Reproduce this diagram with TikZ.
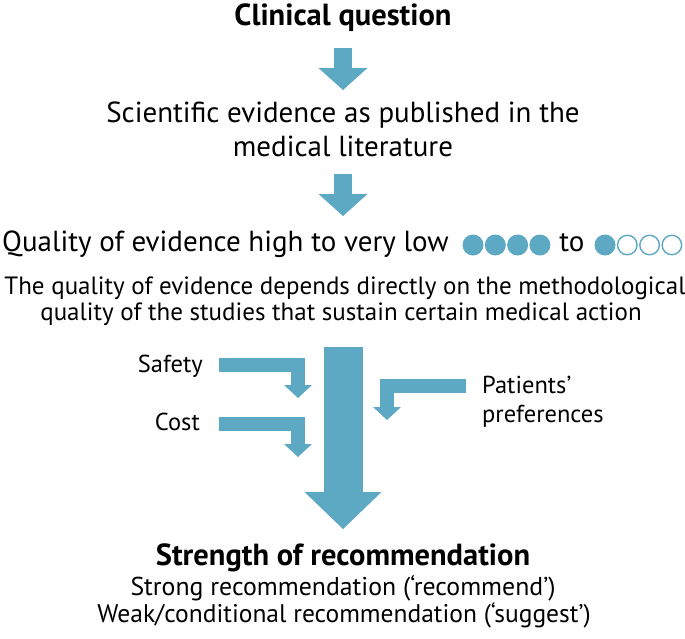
\documentclass[tikz,border=0pt]{standalone}
\usepackage{fontspec}
\setmainfont{PT Sans}
\usetikzlibrary{arrows.meta,positioning,calc}
\definecolor{gblue}{HTML}{5DA8C2}
\tikzset{
  txt/.style={inner sep=0pt,font=\fontsize{25}{30}\selectfont},
  bigtxt/.style={txt,font=\fontsize{29}{34}\selectfont},
  sidetxt/.style={txt,font=\fontsize{24.5}{29}\selectfont},
  headtxt/.style={txt,font=\fontsize{30.5}{36}\selectfont\bfseries},
  flowarrow/.style={draw=gblue,line width=18pt,
    -{Triangle[width=49pt,length=22pt,line width=0pt]}},
  sidearrow/.style={draw=gblue,line width=14pt,
    -{Triangle[width=28pt,length=13pt,line width=0pt]}},
  bigarrow/.style={draw=gblue,line width=39pt,
    -{Triangle[width=77pt,length=37pt,line width=0pt]}},
  fulldot/.style={circle,fill=gblue,inner sep=0pt,minimum size=21pt},
  opendot/.style={circle,draw=gblue,line width=1.4pt,fill=white,inner sep=0pt,minimum size=19.5pt},
}
\begin{document}
\begin{tikzpicture}[x=1pt,y=-1pt]
  \useasboundingbox (0,0) rectangle (685,638);
  % texts
  \node[headtxt,anchor=base] (clin) at (343,25) {Clinical question};
  \node[bigtxt,anchor=base] (sci) at (343,122) {Scientific evidence as published in the};
  \node[bigtxt,anchor=base] (sci2) at (343,156) {medical literature};
  \node[bigtxt,anchor=base west] (qual) at (2,251) {Quality of evidence high to very low};
  \node[bigtxt,anchor=base] (to) at (572,251) {to};
  \node[txt,anchor=base] (dep) at (345,294) {The quality of evidence depends directly on the methodological};
  \node[txt,anchor=base] (dep2) at (341,320) {quality of the studies that sustain certain medical action};
  \node[sidetxt,anchor=base east] (safety) at (203,372) {Safety};
  \node[sidetxt,anchor=base east] (cost) at (200,430) {Cost};
  \node[sidetxt,anchor=base west] (pat) at (482,393) {Patients’};
  \node[sidetxt,anchor=base west] (pat2) at (482,422) {preferences};
  \node[headtxt,anchor=base] (strength) at (343,565) {Strength of recommendation};
  \node[txt,font=\fontsize{25.8}{30}\selectfont,anchor=base] (strong) at (343,595) {Strong recommendation (‘recommend’)};
  \node[txt,font=\fontsize{25.5}{30}\selectfont,anchor=base] (weak) at (344,622) {Weak/conditional recommendation (‘suggest’)};
  % quality dots
  \foreach \i in {0,...,3}
    \node[fulldot] (hi\i) at ({473+22.3*\i},245) {};
  \node[fulldot] (lo0) at (605,245) {};
  \foreach \i in {1,2,3}
    \node[opendot] (lo\i) at ({605+22.3*\i},245) {};
  % arrows
  \coordinate (safetyin) at (298,398);
  \coordinate (costin) at (298,457);
  \coordinate (patin) at (387,420);
  \draw[flowarrow] ($(clin.base)+(0,23)$) -- ($(sci.base)+(0,-32)$);
  \draw[flowarrow] ($(sci2.base)+(0,18)$) -- ($(sci2.base |- qual.base)+(0,-35)$);
  \draw[bigarrow] ($(dep2.base -| strength.base)+(0,27)$) -- ($(strength.base)+(0,-36)$);
  \draw[sidearrow] ($(safety.base east)+(16,-7)$) -| (safetyin);
  \draw[sidearrow] ($(cost.base east)+(19,-6.5)$) -| (costin);
  \draw[sidearrow] ($(pat.base west)+(-16,-7)$) -| (patin);
\end{tikzpicture}
\end{document}
